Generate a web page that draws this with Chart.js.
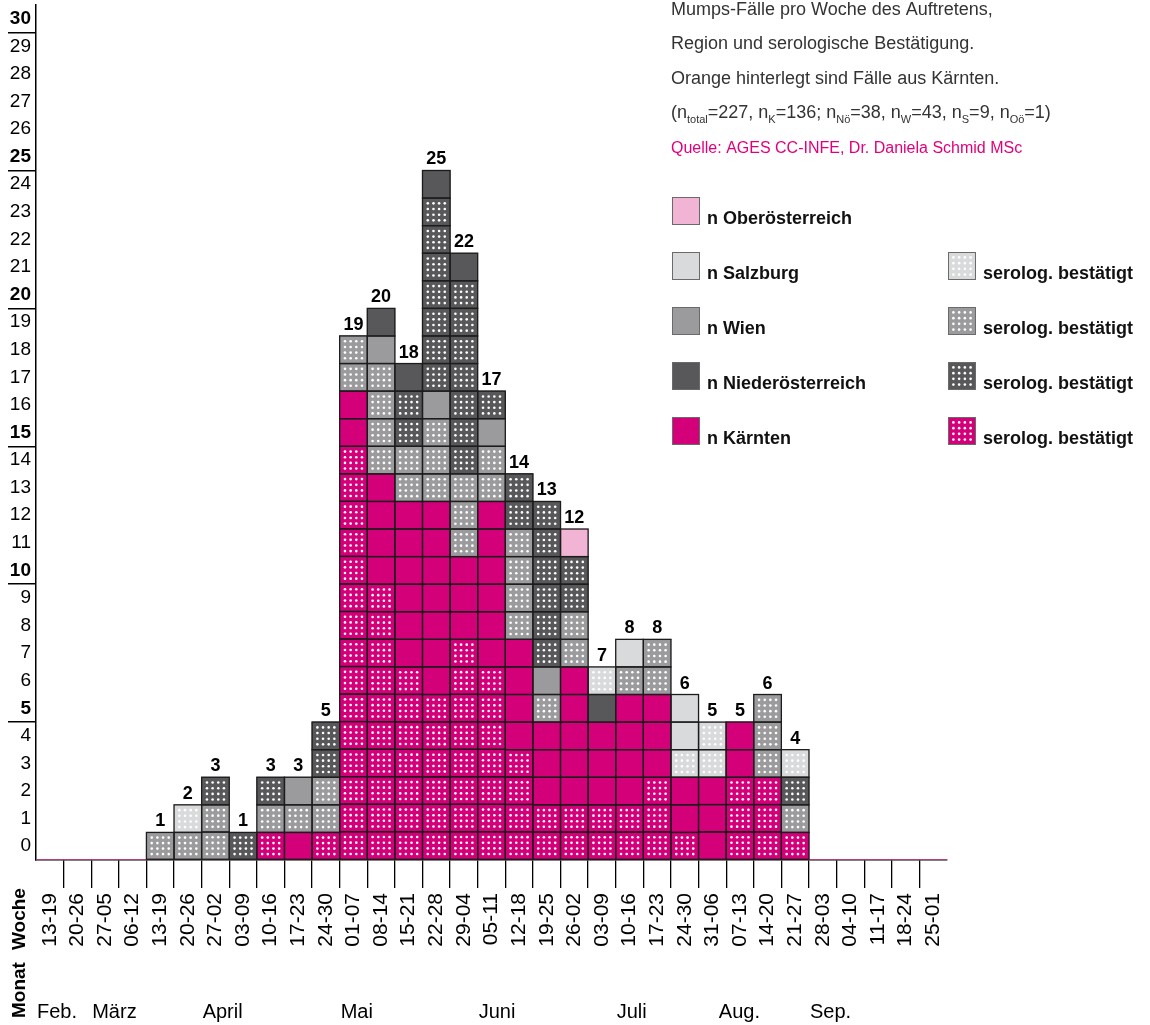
<!DOCTYPE html>
<html>
<head>
<meta charset="utf-8">
<script src="https://cdn.jsdelivr.net/npm/chart.js@4"></script>
<style>
  html, body { margin: 0; padding: 0; background: #fff; }
  #wrap { width: 1150px; height: 1025px; position: relative; }
</style>
</head>
<body>
<div id="wrap"><canvas id="chart"></canvas></div>
<script>
// Wochen (Kalenderwochen der Erkrankung)
const weeks = ['13-19','20-26','27-05','06-12','13-19','20-26','27-02','03-09','10-16','17-23','24-30',
  '01-07','08-14','15-21','22-28','29-04','05-11','12-18','19-25','26-02','03-09','10-16','17-23',
  '24-30','31-06','07-13','14-20','21-27','28-03','04-10','11-17','18-24','25-01'];

// Fälle pro Woche, je Region; "Sero" = serologisch bestätigt
const kaerntenSero = [0,0,0,0, 0,0,0,0, 1,0,1,15, 10,7,6,8, 7,4,2,2, 2,2,3,1, 0,3,3,1, 0,0,0,0,0];
const kaernten     = [0,0,0,0, 0,0,0,0, 0,1,0,2, 4,6,7,3, 6,4,3,5, 3,4,3,2, 3,2,0,0, 0,0,0,0,0];
const wienSero     = [0,0,0,0, 1,1,2,0, 1,1,2,2, 4,2,3,3, 2,4,1,2, 0,1,2,0, 0,0,3,1, 0,0,0,0,0];
const wien         = [0,0,0,0, 0,0,0,0, 0,1,0,0, 1,0,1,0, 1,0,1,0, 0,0,0,0, 0,0,0,0, 0,0,0,0,0];
const noeSero      = [0,0,0,0, 0,0,1,1, 1,0,2,0, 0,2,7,7, 1,2,6,2, 0,0,0,0, 0,0,0,1, 0,0,0,0,0];
const noe          = [0,0,0,0, 0,0,0,0, 0,0,0,0, 1,1,1,1, 0,0,0,0, 1,0,0,0, 0,0,0,0, 0,0,0,0,0];
const salzburgSero = [0,0,0,0, 0,1,0,0, 0,0,0,0, 0,0,0,0, 0,0,0,0, 1,0,0,1, 2,0,0,1, 0,0,0,0,0];
const salzburg     = [0,0,0,0, 0,0,0,0, 0,0,0,0, 0,0,0,0, 0,0,0,0, 0,1,0,2, 0,0,0,0, 0,0,0,0,0];
const ooe          = [0,0,0,0, 0,0,0,0, 0,0,0,0, 0,0,0,0, 0,0,0,1, 0,0,0,0, 0,0,0,0, 0,0,0,0,0];

const yTicks = [0,1,2,3,4,5,6,7,8,9,10,11,12,13,14,15,16,17,18,19,20,21,22,23,24,25,26,27,28,29,30];

// Monate: Beschriftung und Woche (Index), an der sie beginnt
const months = ['Feb.', 'März', 'April', 'Mai', 'Juni', 'Juli', 'Aug.', 'Sep.'];
const monthStart = [0, 2, 6, 11, 16, 21, 24.7, 28];

const FONT = "'Liberation Sans', Arial, Helvetica, sans-serif";
const C = {
    k: '#D4007A',
    o: '#F2B4D5',
    s: '#D9DADB',
    w: '#9B9B9D',
    n: '#58585A'
};

const datasets = [
    { label: 'Kärnten serolog.', data: kaerntenSero, backgroundColor: C.k, dotted: true },
    { label: 'Kärnten', data: kaernten, backgroundColor: C.k },
    { label: 'Wien serolog.', data: wienSero, backgroundColor: C.w, dotted: true },
    { label: 'Wien', data: wien, backgroundColor: C.w },
    { label: 'NÖ serolog.', data: noeSero, backgroundColor: C.n, dotted: true },
    { label: 'NÖ', data: noe, backgroundColor: C.n },
    { label: 'Salzburg serolog.', data: salzburgSero, backgroundColor: C.s, dotted: true },
    { label: 'Salzburg', data: salzburg, backgroundColor: C.s },
    { label: 'Oberösterreich', data: ooe, backgroundColor: C.o }
];

// 4x4 weisse Punkte in einer Zelle
const drawDots = (ctx, left, top, w, h) => {
    ctx.fillStyle = '#fff';
    for (let r = 0; r < 4; r++) {
        for (let c = 0; c < 4; c++) {
            const cx = left + w / 2 + (c - 1.5) * w * 0.205;
            const cy = top + h / 2 + (r - 1.5) * h * 0.205;
            ctx.beginPath();
            ctx.arc(cx, cy, 1.3, 0, Math.PI * 2);
            ctx.fill();
        }
    }
};

// --- cells, dots, totals ---
const cellPlugin = {
    id: 'cells',
    afterDatasetsDraw(chart) {
        const ctx = chart.ctx;
        ctx.save();
        chart.data.datasets.forEach((ds, di) => {
            const meta = chart.getDatasetMeta(di);
            meta.data.forEach((bar, i) => {
                const n = ds.data[i];
                if (!n) return;
                const { x, y, base, width } = bar.getProps(['x', 'y', 'base', 'width'], true);
                const h = (base - y) / n;
                const left = x - width / 2;
                for (let k = 0; k < n; k++) {
                    const top = base - (k + 1) * h;
                    if (ds.dotted) drawDots(ctx, left, top, width, h);
                    ctx.strokeStyle = '#1c1c1c';
                    ctx.lineWidth = 1.3;
                    ctx.strokeRect(left, top, width, h);
                }
            });
        });

        // Summen über den Säulen
        const xs = chart.scales.x, ys = chart.scales.y;
        ctx.fillStyle = '#000';
        ctx.font = `bold 18px ${FONT}`;
        ctx.textAlign = 'center';
        ctx.textBaseline = 'alphabetic';
        weeks.forEach((w, i) => {
            const total = chart.data.datasets.reduce((s, ds) => s + ds.data[i], 0);
            if (!total) return;
            ctx.fillText(String(total), xs.getPixelForValue(i), ys.getPixelForValue(total) - 6);
        });
        ctx.restore();
    },
    afterDraw(chart) {
        const ctx = chart.ctx;
        const xs = chart.scales.x;
        ctx.save();

        // Achsentitel Woche / Monat
        ctx.fillStyle = '#000';
        ctx.font = `bold 19px ${FONT}`;
        ctx.textAlign = 'left';
        ctx.textBaseline = 'alphabetic';
        [['Woche', 950], ['Monat', 1018]].forEach(([t, yy]) => {
            ctx.save();
            ctx.translate(25, yy);
            ctx.rotate(-Math.PI / 2);
            ctx.fillText(t, 0, 0);
            ctx.restore();
        });

        // Monate
        ctx.font = `20px ${FONT}`;
        const colW = xs.width / weeks.length;
        months.forEach((m, i) => {
            ctx.fillText(m, xs.getPixelForValue(monthStart[i]) - colW / 2 + 1, 1018);
        });

        // Beschreibung
        const tx = 671;
        ctx.fillStyle = '#333';
        ctx.font = `18px ${FONT}`;
        ctx.fillText('Mumps-Fälle pro Woche des Auftretens,', tx, 15);
        ctx.fillText('Region und serologische Bestätigung.', tx, 49);
        ctx.fillText('Orange hinterlegt sind Fälle aus Kärnten.', tx, 84);

        const parts = [['(n', 0], ['total', 1], ['=227, n', 0], ['K', 1], ['=136; n', 0], ['Nö', 1],
            ['=38, n', 0], ['W', 1], ['=43, n', 0], ['S', 1], ['=9, n', 0], ['Oö', 1], ['=1)', 0]];
        let px = tx;
        parts.forEach(([t, sub]) => {
            ctx.font = sub ? `11px ${FONT}` : `18px ${FONT}`;
            ctx.fillText(t, px, sub ? 123 : 118);
            px += ctx.measureText(t).width;
        });

        ctx.fillStyle = '#E2007A';
        ctx.font = `16px ${FONT}`;
        ctx.fillText('Quelle: AGES CC-INFE, Dr. Daniela Schmid MSc', tx, 153);

        // Legende
        const legend = [
            ['n Oberösterreich', C.o, false],
            ['n Salzburg', C.s, true],
            ['n Wien', C.w, true],
            ['n Niederösterreich', C.n, true],
            ['n Kärnten', C.k, true]
        ];
        const box = (x, y, col, dotted) => {
            ctx.fillStyle = col;
            ctx.fillRect(x, y, 28, 28);
            if (dotted) drawDots(ctx, x, y, 28, 28);
            ctx.strokeStyle = '#6a6a6a';
            ctx.lineWidth = 1;
            ctx.strokeRect(x + 0.5, y + 0.5, 27, 27);
        };
        legend.forEach(([label, col, sero], i) => {
            const y = 197 + i * 55;
            box(672, y, col, false);
            ctx.fillStyle = '#111';
            ctx.font = `bold 18px ${FONT}`;
            ctx.fillText(label, 707, y + 27);
            if (sero) {
                box(948, y, col, true);
                ctx.fillStyle = '#111';
                ctx.fillText('serolog. bestätigt', 983, y + 27);
            }
        });
        ctx.restore();
    }
};

new Chart(document.getElementById('chart'), {
    type: 'bar',
    data: { labels: weeks, datasets },
    options: {
        responsive: true,
        maintainAspectRatio: false,
        animation: false,
        layout: { padding: { top: 5, right: 203, bottom: 78, left: 0 } },
        datasets: { bar: { barPercentage: 1, categoryPercentage: 1, borderWidth: 0 } },
        plugins: { legend: { display: false }, tooltip: { enabled: false } },
        scales: {
            x: {
                stacked: true,
                afterFit: s => { s.height = 87; },
                border: { display: true, color: '#000', width: 1.5 },
                grid: {
                    offset: true,
                    drawOnChartArea: false,
                    tickLength: 28,
                    lineWidth: 1.3,
                    color: c => (c.type !== 'tick' || c.index === 0) ? 'rgba(0,0,0,0)' : '#000'
                },
                ticks: {
                    autoSkip: false,
                    minRotation: 90,
                    maxRotation: 90,
                    padding: 5,
                    color: '#000',
                    font: { size: 21, family: FONT }
                }
            },
            y: {
                stacked: true,
                min: 0,
                max: 31,
                afterFit: s => { s.width = 36; },
                afterBuildTicks: s => { s.ticks = yTicks.map(v => ({ value: v })); },
                border: { display: true, color: '#000', width: 1.5 },
                grid: {
                    drawOnChartArea: false,
                    tickLength: 28,
                    lineWidth: 1.5,
                    color: c => (c.tick && c.tick.value > 0 && c.tick.value % 5 === 0) ? '#000' : 'rgba(0,0,0,0)'
                },
                ticks: {
                    labelOffset: -13.8,
                    padding: -23,
                    color: '#000',
                    callback: v => String(v),
                    font: c => ({
                        size: 19,
                        family: FONT,
                        weight: (c.tick && c.tick.value > 0 && c.tick.value % 5 === 0) ? 'bold' : 'normal'
                    })
                }
            }
        }
    },
    plugins: [cellPlugin]
});
</script>
</body>
</html>
